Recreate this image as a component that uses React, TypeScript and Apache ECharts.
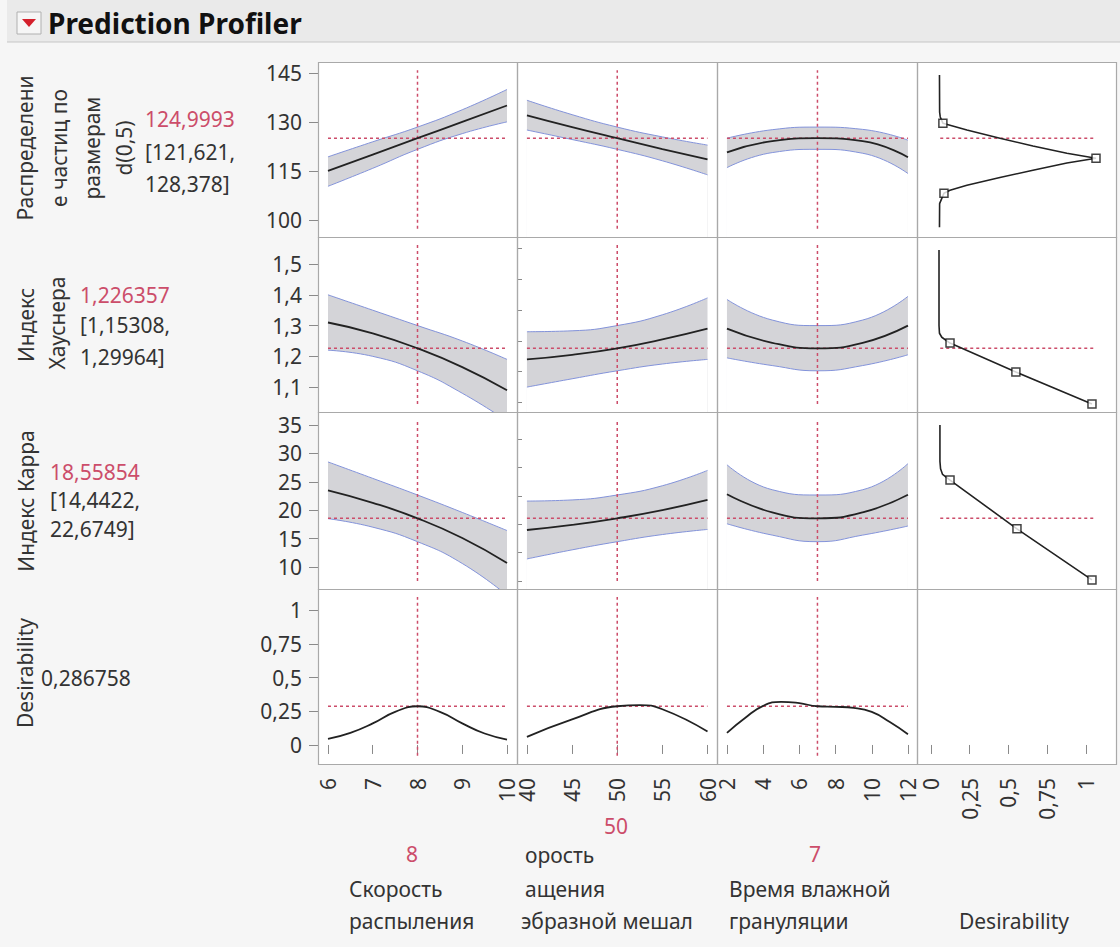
import React, { useEffect, useRef } from "react";
import * as echarts from "echarts";

// ---------- factor grid points ----------
const sprayX = [6, 7, 8, 9, 10];
const mixerX = [40, 45, 50, 55, 60];
const granX = [2, 4.5, 7, 9.5, 12];

// ---------- d(0.5) profiles ----------
const d05SprayMid = [115, 120, 125, 130, 135];
const d05SprayHi = [119.3, 123.9, 128.4, 133.7, 139.9];
const d05SprayLo = [110.3, 115.8, 121.6, 126.4, 130.0];
const d05MixerMid = [132, 128.4, 125, 121.7, 118.5];
const d05MixerHi = [136.6, 132.2, 128.4, 125.4, 122.9];
const d05MixerLo = [127.5, 124.6, 121.6, 118.1, 113.8];
const d05GranMid = [120.7, 124.1, 125, 124.1, 119.2];
const d05GranHi = [125, 127.6, 128.4, 127.7, 124.4];
const d05GranLo = [116, 120.6, 121.6, 120.4, 114.2];

// ---------- Hausner index profiles ----------
const hausSprayMid = [1.31, 1.275, 1.226, 1.165, 1.09];
const hausSprayHi = [1.4, 1.35, 1.3, 1.25, 1.19];
const hausSprayLo = [1.22, 1.2, 1.153, 1.08, 0.99];
const hausMixerMid = [1.19, 1.205, 1.226, 1.255, 1.29];
const hausMixerHi = [1.28, 1.283, 1.3, 1.335, 1.39];
const hausMixerLo = [1.1, 1.127, 1.153, 1.175, 1.19];
const hausGranMid = [1.29, 1.244, 1.226, 1.244, 1.3];
const hausGranHi = [1.385, 1.318, 1.3, 1.318, 1.395];
const hausGranLo = [1.195, 1.17, 1.153, 1.17, 1.205];

// ---------- Carr index profiles ----------
const carrSprayMid = [23.5, 21.3, 18.56, 15.1, 10.7];
const carrSprayHi = [28.5, 25.6, 22.67, 19.6, 16.4];
const carrSprayLo = [18.5, 17.0, 14.44, 10.6, 5.0];
const carrMixerMid = [16.5, 17.4, 18.56, 20.0, 21.8];
const carrMixerHi = [21.6, 21.8, 22.67, 24.3, 27.0];
const carrMixerLo = [11.4, 13.0, 14.44, 15.7, 16.6];
const carrGranMid = [22.8, 19.6, 18.56, 19.6, 22.7];
const carrGranHi = [28.0, 23.6, 22.67, 23.6, 28.2];
const carrGranLo = [17.6, 15.6, 14.44, 15.6, 17.2];

// ---------- Desirability profiles ----------
const desSprayX = [6, 6.5, 7, 7.5, 8, 8.5, 9, 9.5, 10];
const desSprayY = [0.045, 0.09, 0.16, 0.245, 0.287, 0.245, 0.16, 0.085, 0.04];
const desMixerX = [40, 45, 50, 52.5, 55, 60];
const desMixerY = [0.06, 0.19, 0.287, 0.295, 0.265, 0.1];
const desGranX = [2, 3, 4, 5, 6, 7, 8, 9, 10, 11, 12];
const desGranY = [0.09, 0.2, 0.29, 0.32, 0.31, 0.287, 0.283, 0.275, 0.245, 0.17, 0.08];

// ---------- desirability functions (x = desirability, y = response) ----------
const d05FnD = [0.055, 0.056, 0.06, 0.077, 0.232, 0.445, 0.658, 0.877, 1.065, 0.877, 0.658, 0.445, 0.232, 0.123, 0.084, 0.056, 0.055];
const d05FnY = [144.3, 133, 131.5, 129.6, 127.5, 125, 122.6, 120.4, 118.9, 117.4, 115.2, 113, 110.6, 109.1, 108.2, 105, 97.8];
const d05MarkD = [0.077, 1.065, 0.084];
const d05MarkY = [129.6, 118.9, 108.2];
const hausFnD = [0.052, 0.052, 0.055, 0.07, 0.123, 0.548, 1.039];
const hausFnY = [1.546, 1.3, 1.275, 1.262, 1.243, 1.149, 1.045];
const hausMarkD = [0.123, 0.548, 1.039];
const hausMarkY = [1.243, 1.149, 1.045];
const carrFnD = [0.058, 0.058, 0.062, 0.075, 0.123, 0.555, 1.039];
const carrFnY = [35, 28.6, 27.3, 26.3, 25.3, 16.7, 7.7];
const carrMarkD = [0.123, 0.555, 1.039];
const carrMarkY = [25.3, 16.7, 7.7];

// ---------- current settings ----------
const currentFactors = [8, 50, 7];
const currentResponses = [125, 1.226357, 18.55854, 0.286758];

// ---------- tick labels ----------
const xTicks = [[6, 7, 8, 9, 10], [40, 45, 50, 55, 60], [2, 4, 6, 8, 10, 12], [0, 0.25, 0.5, 0.75, 1]];
const xMinor = [[6.5, 7.5, 8.5, 9.5], [42.5, 47.5, 52.5, 57.5], [3, 5, 7, 9, 11], []];
const yTicks = [[100, 115, 130, 145], [1.1, 1.2, 1.3, 1.4, 1.5], [10, 15, 20, 25, 30, 35], [0, 0.25, 0.5, 0.75, 1]];
const yMinor = [[], [1.05, 1.15, 1.25, 1.35, 1.45, 1.55], [7.5, 12.5, 17.5, 22.5, 27.5, 32.5], []];

// ---------- layout ----------
const COLS = [318, 517, 717, 917, 1116];
const ROWS = [62, 237, 412, 589, 764];
const X_RANGES = [[5.777, 10.223], [38.9, 61.05], [1.45, 12.5], [-0.09, 1.194]];
const Y_RANGES = [[94.8, 148.3], [1.019, 1.588], [6.1, 37.3], [-0.141, 1.156]];
const V_EXT = [[97.3, 145.8], [1.045, 1.5625], [7.5, 35.9], [-0.08, 1.096]];
const FACTOR_SPAN = [[6, 10], [40, 60], [2, 12]];

const FONT = "Noto Sans";
const RED = "#cc4d6a";
const TXT = "#333333";
const fmt = (v: number) => String(v).replace(".", ",");
const zip = (a: number[], b: number[]) => a.map((v, i) => [v, b[i]]);

function buildOption() {
  const grid: any[] = [];
  const xAxis: any[] = [];
  const yAxis: any[] = [];
  const series: any[] = [];
  const borders: any[] = [];

  for (let r = 0; r < 4; r++) {
    for (let c = 0; c < 4; c++) {
      const gi = r * 4 + c;
      grid.push({
        left: COLS[c], top: ROWS[r], width: COLS[c + 1] - COLS[c], height: ROWS[r + 1] - ROWS[r],
        show: true, backgroundColor: "#ffffff", borderWidth: 0,
      });
      borders.push({
        type: "rect", z: 100, silent: true,
        shape: { x: COLS[c] + 0.5, y: ROWS[r] + 0.5, width: COLS[c + 1] - COLS[c], height: ROWS[r + 1] - ROWS[r] },
        style: { fill: "none", stroke: "#a9a9a9", lineWidth: 1.2 },
      });
      xAxis.push({
        type: "value", gridIndex: gi, min: X_RANGES[c][0], max: X_RANGES[c][1],
        axisLine: { show: false }, splitLine: { show: false },
        axisTick: { show: r === 3, customValues: xTicks[c], length: 9, lineStyle: { color: "#8a8a8a" } },
        axisLabel: {
          show: r === 3, customValues: xTicks[c], rotate: 90, margin: 14,
          fontSize: 21, fontFamily: FONT, color: TXT, formatter: fmt,
        },
      });
      yAxis.push({
        type: "value", gridIndex: gi, min: Y_RANGES[r][0], max: Y_RANGES[r][1],
        axisLine: { show: false }, splitLine: { show: false },
        axisTick: { show: c === 0, customValues: yTicks[r], length: 9, lineStyle: { color: "#8a8a8a" } },
        axisLabel: {
          show: c === 0, customValues: yTicks[r], margin: 16,
          fontSize: 21, fontFamily: FONT, color: TXT, formatter: fmt,
        },
      });
    }
  }
  // minor ticks
  for (let c = 0; c < 3; c++) {
    const gi = 12 + c;
    xAxis.push({
      type: "value", gridIndex: gi, min: X_RANGES[c][0], max: X_RANGES[c][1],
      axisLine: { show: false }, splitLine: { show: false }, axisLabel: { show: false },
      axisTick: { show: true, customValues: xMinor[c], length: 5, lineStyle: { color: "#8a8a8a" } },
    });
  }
  for (const r of [1, 2]) {
    const gi = r * 4;
    yAxis.push({
      type: "value", gridIndex: gi, min: Y_RANGES[r][0], max: Y_RANGES[r][1],
      axisLine: { show: false }, splitLine: { show: false }, axisLabel: { show: false },
      axisTick: { show: true, customValues: yMinor[r], length: 5, lineStyle: { color: "#8a8a8a" } },
    });
  }

  // confidence band: gray area under the upper limit, masked by white area under the lower limit
  const band = (gi: number, xs: number[], lo: number[], hi: number[], mid: number[]) => {
    const base = { type: "line", xAxisIndex: gi, yAxisIndex: gi, symbol: "none", smooth: true, silent: true };
    series.push({
      ...base, z: 1, data: zip(xs, hi),
      lineStyle: { color: "#8393da", width: 1 }, areaStyle: { color: "#d4d4d8", opacity: 1, origin: "start" },
    });
    series.push({
      ...base, z: 2, data: zip(xs, lo),
      lineStyle: { color: "#8393da", width: 1 }, areaStyle: { color: "#ffffff", opacity: 1, origin: "start" },
    });
    series.push({
      type: "line", xAxisIndex: gi, yAxisIndex: gi, symbol: "none", smooth: true, z: 4,
      data: zip(xs, mid), lineStyle: { color: "#222222", width: 1.8 },
    });
  };

  const profiles = [
    [[d05SprayLo, d05SprayHi, d05SprayMid], [d05MixerLo, d05MixerHi, d05MixerMid], [d05GranLo, d05GranHi, d05GranMid]],
    [[hausSprayLo, hausSprayHi, hausSprayMid], [hausMixerLo, hausMixerHi, hausMixerMid], [hausGranLo, hausGranHi, hausGranMid]],
    [[carrSprayLo, carrSprayHi, carrSprayMid], [carrMixerLo, carrMixerHi, carrMixerMid], [carrGranLo, carrGranHi, carrGranMid]],
  ];
  const factorXs = [sprayX, mixerX, granX];
  for (let r = 0; r < 3; r++) {
    for (let c = 0; c < 3; c++) {
      const p = profiles[r][c];
      band(r * 4 + c, factorXs[c], p[0], p[1], p[2]);
    }
  }
  const desX = [desSprayX, desMixerX, desGranX];
  const desY = [desSprayY, desMixerY, desGranY];
  for (let c = 0; c < 3; c++) {
    const gi = 12 + c;
    series.push({
      type: "line", xAxisIndex: gi, yAxisIndex: gi, symbol: "none", smooth: true, z: 4,
      data: zip(desX[c], desY[c]), lineStyle: { color: "#222222", width: 1.8 },
    });
  }

  // reference (current value) dashed lines
  const dash = { type: [3, 3], color: RED, width: 1.5 };
  for (let r = 0; r < 4; r++) {
    for (let c = 0; c < 3; c++) {
      const gi = r * 4 + c;
      series.push({
        type: "line", xAxisIndex: gi, yAxisIndex: gi, symbol: "none", z: 3, silent: true,
        data: [[FACTOR_SPAN[c][0], currentResponses[r]], [FACTOR_SPAN[c][1], currentResponses[r]]], lineStyle: dash,
      });
      series.push({
        type: "line", xAxisIndex: gi, yAxisIndex: gi, symbol: "none", z: 3, silent: true,
        data: [[currentFactors[c], V_EXT[r][0]], [currentFactors[c], V_EXT[r][1]]], lineStyle: dash,
      });
    }
  }

  // desirability functions column
  const fns = [[d05FnD, d05FnY, d05MarkD, d05MarkY], [hausFnD, hausFnY, hausMarkD, hausMarkY], [carrFnD, carrFnY, carrMarkD, carrMarkY]];
  for (let r = 0; r < 3; r++) {
    const gi = r * 4 + 3;
    const f = fns[r];
    series.push({
      type: "line", xAxisIndex: gi, yAxisIndex: gi, symbol: "none", z: 3, silent: true,
      data: [[0.06, currentResponses[r]], [1.06, currentResponses[r]]], lineStyle: dash,
    });
    series.push({
      type: "line", xAxisIndex: gi, yAxisIndex: gi, symbol: "none", z: 4,
      data: zip(f[0], f[1]), lineStyle: { color: "#222222", width: 1.6 },
    });
    series.push({
      type: "scatter", xAxisIndex: gi, yAxisIndex: gi, symbol: "rect", symbolSize: 8, z: 5,
      data: zip(f[2], f[3]), itemStyle: { color: "#ffffff", borderColor: "#111111", borderWidth: 1.5 },
    });
  }

  // ---------- graphics: header, row labels, factor labels ----------
  const t = (text: string, x: number, y: number, opts: any = {}) => ({
    type: "text", x, y, rotation: opts.rotation || 0,
    style: {
      text, x: 0, y: 0, fill: opts.fill || TXT, fontSize: opts.fontSize || 21,
      fontFamily: FONT, fontWeight: opts.fontWeight || "normal",
      align: opts.align || "left", verticalAlign: "middle",
    },
  });
  const V = Math.PI / 2;
  const graphic: any[] = [
    { type: "rect", shape: { x: 7, y: 0, width: 1113, height: 42 }, style: { fill: "#eaeaea" } },
    { type: "line", shape: { x1: 7, y1: 42, x2: 1120, y2: 42 }, style: { stroke: "#c6c6c6", lineWidth: 1 } },
    { type: "rect", shape: { x: 17, y: 12, width: 24, height: 22 }, style: { fill: "#f6f6f6", stroke: "#b0b0b0", lineWidth: 1 } },
    { type: "polygon", shape: { points: [[22, 19], [36, 19], [29, 27]] }, style: { fill: "#d4202c" } },
    t("Prediction Profiler", 48, 23, { fontSize: 28, fontWeight: "bold", fill: "#111" }),

    t("Распределени", 25, 148, { rotation: V, align: "center" }),
    t("е частиц по", 59, 148, { rotation: V, align: "center" }),
    t("размерам", 92, 148, { rotation: V, align: "center" }),
    t("d(0,5)", 124, 148, { rotation: V, align: "center" }),
    t("124,9993", 145, 119, { fill: RED }),
    t("[121,621,", 145, 152),
    t("128,378]", 145, 184),

    t("Индекс", 26, 325, { rotation: V, align: "center" }),
    t("Хауснера", 57, 323, { rotation: V, align: "center" }),
    t("1,226357", 80, 295, { fill: RED }),
    t("[1,15308,", 80, 325),
    t("1,29964]", 80, 357),

    t("Индекс Карра", 26, 501, { rotation: V, align: "center" }),
    t("18,55854", 50, 472, { fill: RED }),
    t("[14,4422,", 50, 500),
    t("22,6749]", 50, 529),

    t("Desirability", 25, 673, { rotation: V, align: "center" }),
    t("0,286758", 41, 678),

    t("8", 412, 854, { fill: RED, align: "center" }),
    t("Скорость", 349, 889),
    t("распыления", 349, 921),
    t("50", 616, 826, { fill: RED, align: "center" }),
    t("орость", 525, 855),
    t("ащения", 525, 889),
    t("эбразной мешал", 521, 921),
    t("7", 815, 854, { fill: RED, align: "center" }),
    t("Время влажной", 729, 889),
    t("грануляции", 729, 921),
    t("Desirability", 1014, 921, { align: "center" }),
    ...borders,
  ];

  return { animation: false, backgroundColor: "#f6f6f6", grid, xAxis, yAxis, series, graphic };
}

export default function App() {
  const ref = useRef<HTMLDivElement>(null);
  useEffect(() => {
    if (!ref.current) return;
    const chart = echarts.init(ref.current, null, { renderer: "svg" });
    chart.setOption(buildOption() as any);
    return () => chart.dispose();
  }, []);
  return <div ref={ref} style={{ position: "absolute", left: 0, top: 0, width: 1120, height: 947 }} />;
}
